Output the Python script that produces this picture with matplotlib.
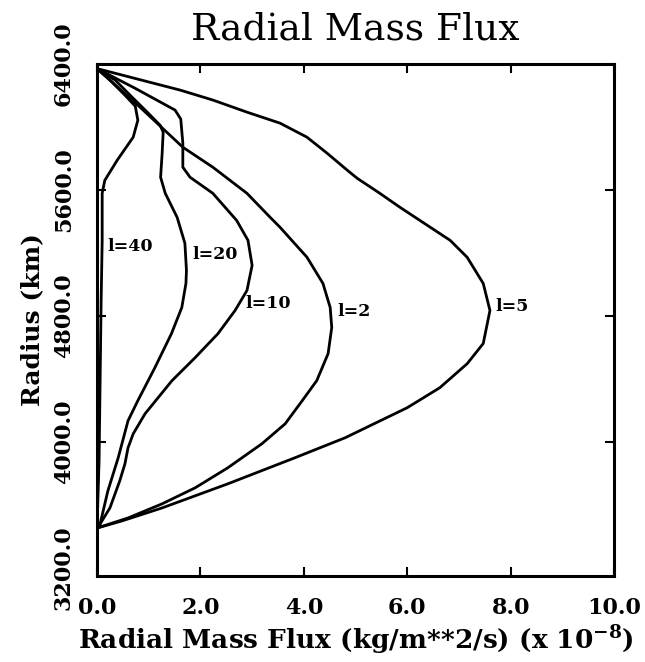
import matplotlib
matplotlib.use("Agg")
import matplotlib.pyplot as plt

plt.rcParams['font.family'] = ['DejaVu Serif']
plt.rcParams['mathtext.fontset'] = 'dejavuserif'

# flux in 1e-8 kg/m^2/s, radius in km
l5_flux = [0.0, 1.61, 2.24, 2.90, 3.54, 4.06, 4.45, 4.84, 5.03, 5.47, 5.86, 6.83,
           7.16, 7.47, 7.60, 7.47, 7.16, 6.63, 6.00, 4.80, 3.83, 2.53, 1.26, 0.48, 0.0]
l5_radius = [6371, 6234, 6171, 6094, 6024, 5935, 5833, 5725, 5674, 5578, 5489, 5279,
             5171, 5005, 4833, 4623, 4495, 4342, 4215, 4024, 3897, 3731, 3578, 3495, 3450]

l2_flux = [0.0, 0.83, 1.66, 2.24, 2.90, 3.35, 3.54, 4.06, 4.37, 4.51, 4.54, 4.47,
           4.25, 3.97, 3.64, 3.19, 2.53, 1.90, 1.26, 0.60, 0.0]
l2_radius = [6371, 6126, 5871, 5744, 5578, 5425, 5362, 5172, 5005, 4852, 4725, 4559,
             4387, 4260, 4113, 3986, 3833, 3706, 3604, 3514, 3450]

l10_flux = [0.0, 0.73, 1.51, 1.62, 1.66, 1.66, 1.80, 2.24, 2.70, 2.92, 3.00, 2.90,
            2.67, 2.34, 1.90, 1.45, 0.93, 0.70, 0.60, 0.54, 0.44, 0.25, 0.06, 0.0]
l10_radius = [6371, 6247, 6107, 6050, 5897, 5744, 5680, 5578, 5406, 5279, 5120, 4960,
              4833, 4686, 4534, 4387, 4177, 4049, 3960, 3858, 3750, 3578, 3476, 3450]

l20_flux = [0.0, 0.35, 0.67, 0.99, 1.22, 1.28, 1.26, 1.23, 1.32, 1.55, 1.70, 1.73,
            1.72, 1.64, 1.44, 1.12, 0.79, 0.60, 0.41, 0.21, 0.06, 0.0]
l20_radius = [6371, 6298, 6192, 6088, 6011, 5967, 5833, 5680, 5578, 5425, 5260, 5088,
              5005, 4852, 4686, 4470, 4260, 4132, 3897, 3686, 3476, 3450]

l40_flux = [0.0, 0.25, 0.54, 0.74, 0.79, 0.70, 0.39, 0.15, 0.10, 0.10, 0.08, 0.06,
            0.04, 0.0]
l40_radius = [6371, 6298, 6202, 6132, 6043, 5935, 5788, 5660, 5578, 5278, 4896, 4386,
              3876, 3450]

curve_labels = ['l=40', 'l=20', 'l=10', 'l=2', 'l=5']
label_x = [0.21, 1.84, 2.86, 4.64, 7.70]
label_y = [5240, 5190, 4877, 4827, 4858]

x_ticks = [0, 2, 4, 6, 8, 10]
y_ticks = [3200, 4000, 4800, 5600, 6400]

fig = plt.figure(figsize=(6.45, 6.62), dpi=100)
ax = fig.add_axes([0.1504, 0.1299, 0.8016, 0.7734])

for fx, ry in [(l5_flux, l5_radius), (l2_flux, l2_radius), (l10_flux, l10_radius),
               (l20_flux, l20_radius), (l40_flux, l40_radius)]:
    ax.plot(fx, ry, color='black', lw=2.0, solid_joinstyle='round')

for txt, tx, ty in zip(curve_labels, label_x, label_y):
    ax.text(tx, ty, txt, fontsize=12.5, fontweight='bold', ha='left', va='center')

ax.set_xlim(0, 10)
ax.set_ylim(3145, 6400)
ax.set_xticks(x_ticks)
ax.set_xticklabels(['%.1f' % v for v in x_ticks], fontsize=16, fontweight='bold')
ax.set_yticks(y_ticks)
ax.set_yticklabels(['%.1f' % v for v in y_ticks], fontsize=16, fontweight='bold',
                   rotation=90, va='center')
ax.tick_params(direction='in', length=6.5, width=1.5, top=True, right=True)
ax.tick_params(axis='x', pad=15)
ax.tick_params(axis='y', pad=16)
for t in (ax.yaxis.get_major_ticks()[0], ax.yaxis.get_major_ticks()[-1]):
    t.tick1line.set_visible(False)
    t.tick2line.set_visible(False)
for sp in ax.spines.values():
    sp.set_linewidth(2.2)

ax.set_title('Radial Mass Flux', fontsize=27, pad=18)
ax.set_xlabel('Radial Mass Flux (kg/m**2/s) (x 10$^{\\mathbf{-8}}$)', fontsize=19,
              fontweight='bold', labelpad=3)
ax.set_ylabel('Radius (km)', fontsize=18, fontweight='bold', labelpad=6)

fig.savefig('out.png', dpi=100)
